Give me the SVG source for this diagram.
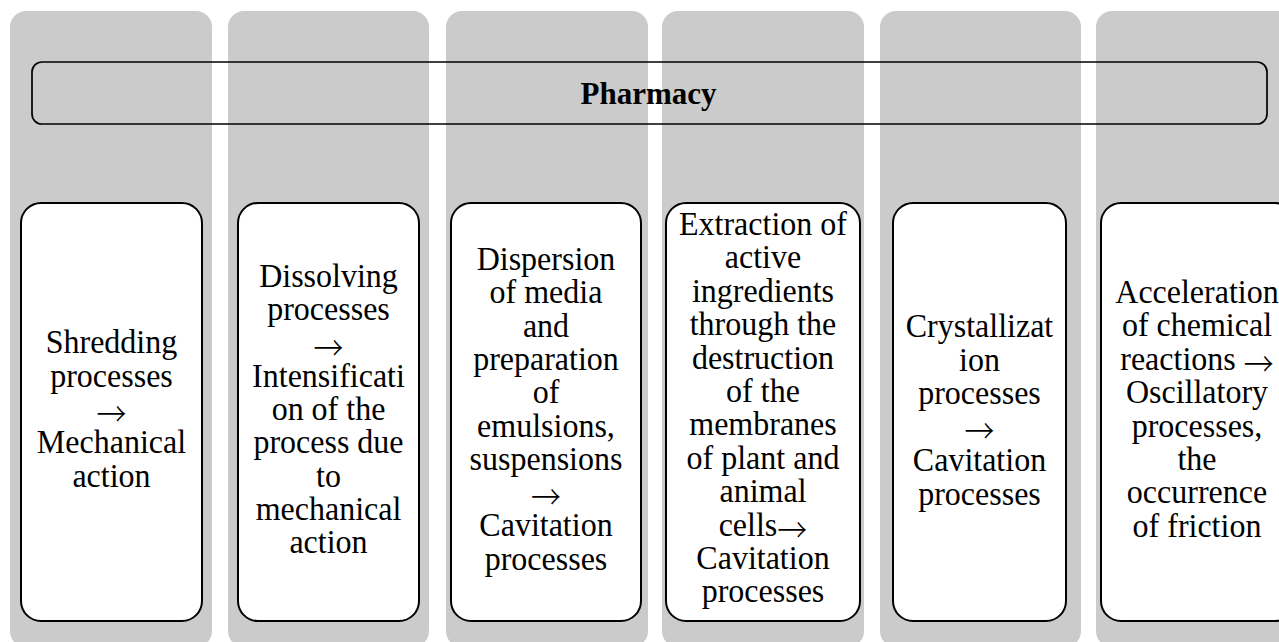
<svg xmlns="http://www.w3.org/2000/svg" width="1279" height="642" viewBox="0 0 1279 642">
<style>
.col{fill:#cbcbcb}
.box{fill:#ffffff;stroke:#000;stroke-width:2}
.hdr{fill:none;stroke:#000;stroke-width:1.7}
.t{font-family:"Liberation Serif","Times New Roman",serif;font-size:32px;fill:#000;text-anchor:middle}
.a{font-family:"Noto Sans CJK JP","Noto Sans CJK SC",sans-serif;font-size:30px;font-weight:300}
.h{font-family:"Liberation Serif","Times New Roman",serif;font-size:31px;font-weight:bold;fill:#000;text-anchor:middle}
</style>
<rect width="1279" height="642" fill="#ffffff"/>
<g id="columns">
<rect class="col" x="10" y="11" width="202" height="636" rx="16"/>
<rect class="col" x="228" y="11" width="201" height="636" rx="16"/>
<rect class="col" x="446" y="11" width="202" height="636" rx="16"/>
<rect class="col" x="662" y="11" width="202" height="636" rx="16"/>
<rect class="col" x="880" y="11" width="201" height="636" rx="16"/>
<rect class="col" x="1096" y="11" width="202" height="636" rx="16"/>
</g>
<g id="pharmacy">
<rect class="hdr" x="32" y="62" width="1235" height="62" rx="10"/>
<text class="h" x="648.5" y="104">Pharmacy</text>
</g>
<g id="n1">
<rect class="box" x="21" y="203" width="181" height="418" rx="20"/>
<g transform="matrix(1,0,0,1.08,0,-32.96)">
<text class="t" x="111.5" y="357.4">Shredding</text>
<text class="t" x="111.5" y="388.4">processes</text>
<text class="t" x="111.5" y="425"><tspan class="a">→</tspan></text>
<text class="t" x="111.5" y="450.4">Mechanical</text>
<text class="t" x="111.5" y="481.4">action</text>
</g>
</g>
<g id="n2">
<rect class="box" x="238" y="203" width="181" height="418" rx="20"/>
<g transform="matrix(1,0,0,1.08,0,-32.96)">
<text class="t" x="328.5" y="296.3">Dissolving</text>
<text class="t" x="328.5" y="327.1">processes</text>
<text class="t" x="328.5" y="363.5"><tspan class="a">→</tspan></text>
<text class="t" x="328.5" y="388.7">Intensificati</text>
<text class="t" x="328.5" y="419.6">on of the</text>
<text class="t" x="328.5" y="450.4">process due</text>
<text class="t" x="328.5" y="481.2">to</text>
<text class="t" x="328.5" y="512.1">mechanical</text>
<text class="t" x="328.5" y="542.9">action</text>
</g>
</g>
<g id="n3">
<rect class="box" x="451" y="203" width="190" height="418" rx="20"/>
<g transform="matrix(1,0,0,1.08,0,-32.96)">
<text class="t" x="546" y="280.5">Dispersion</text>
<text class="t" x="546" y="311.4">of media</text>
<text class="t" x="546" y="342.2">and</text>
<text class="t" x="546" y="373">preparation</text>
<text class="t" x="546" y="403.8">of</text>
<text class="t" x="546" y="434.7">emulsions,</text>
<text class="t" x="546" y="465.5">suspensions</text>
<text class="t" x="546" y="501.9"><tspan class="a">→</tspan></text>
<text class="t" x="546" y="527.2">Cavitation</text>
<text class="t" x="546" y="558">processes</text>
</g>
</g>
<g id="n4">
<rect class="box" x="666" y="203" width="194" height="418" rx="20"/>
<g transform="matrix(1,0,0,1.08,0,-32.96)">
<text class="t" x="763" y="248.1">Extraction of</text>
<text class="t" x="763" y="279">active</text>
<text class="t" x="763" y="310">ingredients</text>
<text class="t" x="763" y="340.9">through the</text>
<text class="t" x="763" y="371.8">destruction</text>
<text class="t" x="763" y="402.8">of the</text>
<text class="t" x="763" y="433.7">membranes</text>
<text class="t" x="763" y="464.6">of plant and</text>
<text class="t" x="763" y="495.6">animal</text>
<text class="t" x="763" y="526.5">cells<tspan class="a" dy="5.5">→</tspan></text>
<text class="t" x="763" y="557.4">Cavitation</text>
<text class="t" x="763" y="588.3">processes</text>
</g>
</g>
<g id="n5">
<rect class="box" x="893" y="203" width="173" height="418" rx="20"/>
<g transform="matrix(1,0,0,1.08,0,-32.96)">
<text class="t" x="979.5" y="342.6">Crystallizat</text>
<text class="t" x="979.5" y="373.6">ion</text>
<text class="t" x="979.5" y="404.6">processes</text>
<text class="t" x="979.5" y="441.1"><tspan class="a">→</tspan></text>
<text class="t" x="979.5" y="466.6">Cavitation</text>
<text class="t" x="979.5" y="497.7">processes</text>
</g>
</g>
<g id="n6">
<rect class="box" x="1101" y="203" width="194" height="418" rx="20"/>
<g transform="matrix(1,0,0,1.08,0,-32.96)">
<text class="t" x="1197" y="311.1">Acceleration</text>
<text class="t" x="1197" y="342">of chemical</text>
<text class="t" x="1197" y="372.9">reactions <tspan class="a" dy="5.5">→</tspan></text>
<text class="t" x="1197" y="403.9">Oscillatory</text>
<text class="t" x="1197" y="434.8">processes,</text>
<text class="t" x="1197" y="465.7">the</text>
<text class="t" x="1197" y="496.7">occurrence</text>
<text class="t" x="1197" y="527.6">of friction</text>
</g>
</g>
<g id="connectors"></g>
</svg>
